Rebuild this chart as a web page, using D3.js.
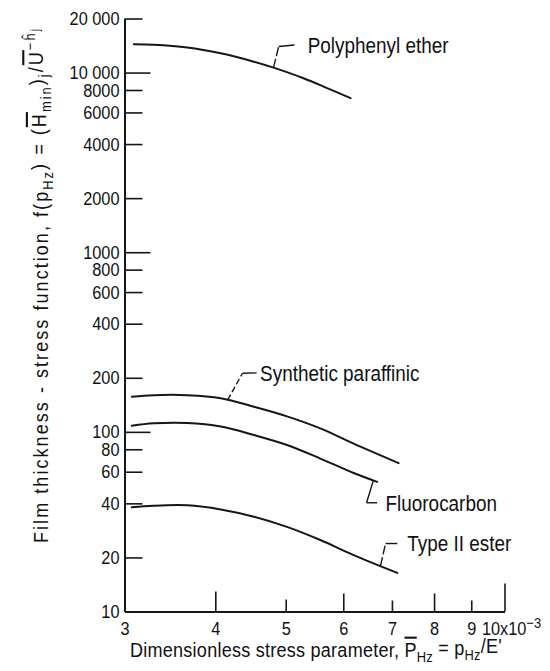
<!DOCTYPE html>
<html>
<head>
<meta charset="utf-8">
<script src="https://cdn.jsdelivr.net/npm/d3@7"></script>
<style>
  html, body { margin: 0; padding: 0; background: #fff; }
  svg text { font-family: "Liberation Sans", Arial, "DejaVu Sans", sans-serif; fill: #111; }
</style>
</head>
<body>
<svg id="chart" width="550" height="671"></svg>
<script>
// Dimensionless stress parameter (x10^-3) and film thickness - stress function per fluid
const polyphenylX = [3.09, 3.29, 3.66, 4.07, 4.52, 4.81, 5.29, 5.70, 6.14];
const polyphenylY = [14400, 14300, 13800, 12800, 11500, 10650, 9300, 8200, 7200];

const paraffinicX = [3.07, 3.29, 3.66, 4.07, 4.52, 5.02, 5.58, 6.20, 7.15];
const paraffinicY = [157, 160, 160, 154, 138, 122, 104.5, 86, 67];

const fluorocarbonX = [3.07, 3.29, 3.66, 4.07, 4.52, 5.02, 5.58, 6.20, 6.68];
const fluorocarbonY = [108, 111.5, 112, 107, 96, 84.5, 71, 59, 52.7];

const esterX = [3.07, 3.29, 3.66, 4.07, 4.52, 5.02, 5.58, 6.20, 7.12];
const esterY = [38, 38.8, 39, 37, 33.7, 29.6, 25, 20.6, 16.4];

// Axis ticks
const xTickValues = [3, 4, 5, 6, 7, 8, 9, 10];
const xTickLabels = ["3", "4", "5", "6", "7", "8", "9", "10x10"];
const yTickValues = [10, 20, 40, 60, 80, 100, 200, 400, 600, 800, 1000, 2000, 4000, 6000, 8000, 10000, 20000];
const yTickLabels = ["10", "20", "40", "60", "80", "100", "200", "400", "600", "800", "1000", "2000", "4000", "6000", "8000", "10 000", "20 000"];

// Curve labels: name, x where the leader leaves the curve, elbow point, leader end, text start x
const labelNames = ["Polyphenyl ether", "Synthetic paraffinic", "Fluorocarbon", "Type II ester"];
const labelCurveX = [4.81, 4.16, 6.60, 6.75];
const labelElbow = [[4.89, 13970], [4.36, 212], [6.46, 40.3], [6.86, 23.9]];
const labelEnd = [[5.14, 14230], [4.56, 213], [6.68, 40.3], [7.12, 23.9]];
const labelTextX = [5.36, 4.61, 6.86, 7.35];

const series = [
  d3.zip(polyphenylX, polyphenylY),
  d3.zip(paraffinicX, paraffinicY),
  d3.zip(fluorocarbonX, fluorocarbonY),
  d3.zip(esterX, esterY)
];

const svg = d3.select("#chart");
const ink = "#161616";
const NARROW = 0.86;   // horizontal squeeze giving the condensed lettering

const x = d3.scaleLog().domain([3, 10]).range([124.5, 504.5]);
const y = d3.scaleLog().domain([10, 20000]).range([611.5, 18.5]);

// ---- y axis (ticks point into the plot) ----
const yMajor = new Set([100, 1000, 10000]);
const yAxis = d3.axisLeft(y)
  .tickValues(yTickValues)
  .tickFormat((d, i) => yTickLabels[i])
  .tickSizeInner(-18)
  .tickSizeOuter(0)
  .tickPadding(5);

const gy = svg.append("g").attr("transform", "translate(124.5,0)").call(yAxis);
gy.select(".domain").attr("stroke", ink).attr("stroke-width", 2);
gy.selectAll(".tick line")
  .attr("stroke", ink).attr("stroke-width", 1.6)
  .attr("x2", d => d === 10 ? 0 : (yMajor.has(d) ? 26 : 18));
gy.selectAll(".tick text")
  .attr("font-size", 19)
  .attr("fill", ink)
  .attr("x", -5 / NARROW)
  .attr("transform", `scale(${NARROW},1)`);

// ---- x axis (ticks point up into the plot) ----
const xTickLen = {3: 0, 4: 20, 5: 12, 6: 18, 7: 11, 8: 18, 9: 11, 10: 28};
const xAxis = d3.axisBottom(x)
  .tickValues(xTickValues)
  .tickFormat((d, i) => xTickLabels[i])
  .tickSizeInner(-18)
  .tickSizeOuter(0)
  .tickPadding(10);

const gx = svg.append("g").attr("transform", "translate(0,611.5)").call(xAxis);
gx.select(".domain").attr("stroke", ink).attr("stroke-width", 2);
gx.selectAll(".tick line")
  .attr("stroke", ink).attr("stroke-width", 1.6)
  .attr("y2", d => -xTickLen[d]);
gx.selectAll(".tick text")
  .attr("font-size", 19)
  .attr("fill", ink)
  .attr("transform", `scale(${NARROW},1)`);

// the last label carries the x10^-3 multiplier: centre "10x10" on the tick, exponent after it
const lastText = gx.selectAll(".tick").filter(d => d === 10).select("text");
const lastW = lastText.node().getComputedTextLength();
lastText.attr("text-anchor", "start").attr("x", -lastW / 2 - 1);
lastText.append("tspan").attr("dy", "-0.45em").attr("font-size", 15).text("\u22123");

// ---- curves ----
const line = d3.line()
  .x(d => x(d[0]))
  .y(d => y(d[1]))
  .curve(d3.curveCatmullRom.alpha(0.5));

svg.append("g").selectAll("path")
  .data(series)
  .join("path")
  .attr("d", line)
  .attr("fill", "none")
  .attr("stroke", ink)
  .attr("stroke-width", 2)
  .attr("stroke-linecap", "round");

// value on a curve at a given x (log-log interpolation between read points)
function valueAt(s, xv) {
  for (let i = 1; i < s.length; i++) {
    if (xv <= s[i][0]) {
      const a = s[i - 1], b = s[i];
      const t = (Math.log(xv) - Math.log(a[0])) / (Math.log(b[0]) - Math.log(a[0]));
      return Math.exp(Math.log(a[1]) + t * (Math.log(b[1]) - Math.log(a[1])));
    }
  }
  return s[s.length - 1][1];
}

// ---- leaders and labels ----
const lab = svg.append("g");
labelNames.forEach((name, i) => {
  const cx = labelCurveX[i], cy = valueAt(series[i], cx);
  lab.append("line")
    .attr("x1", x(cx)).attr("y1", y(cy))
    .attr("x2", x(labelElbow[i][0])).attr("y2", y(labelElbow[i][1]))
    .attr("stroke", ink).attr("stroke-width", 1.4)
    .attr("stroke-dasharray", i === 1 ? "6,3" : (i === 2 ? null : "9,3"));
  lab.append("line")
    .attr("x1", x(labelElbow[i][0])).attr("y1", y(labelElbow[i][1]))
    .attr("x2", x(labelEnd[i][0])).attr("y2", y(labelEnd[i][1]))
    .attr("stroke", ink).attr("stroke-width", 1.4);
  lab.append("text")
    .attr("transform", `translate(${x(labelTextX[i])},${y(labelEnd[i][1])}) scale(${NARROW},1)`)
    .attr("dy", "0.36em")
    .attr("font-size", 22)
    .text(name);
});

// ---- axis titles ----
// spread the letters so the squeezed title spans the wanted length
function fitWidth(textSel, target) {
  const node = textSel.node();
  const n = node.getNumberOfChars();
  const len = node.getComputedTextLength();
  textSel.attr("letter-spacing", ((target / NARROW - len) / n).toFixed(3) + "px");
}

const xTitle = svg.append("text")
  .attr("transform", `translate(130,657) scale(${NARROW},1)`)
  .attr("font-size", 21);
xTitle.append("tspan").text("Dimensionless stress parameter,  ");
xTitle.append("tspan").style("text-decoration", "overline").text("P");
xTitle.append("tspan").attr("font-size", 15).attr("dy", "0.3em").text("Hz");
xTitle.append("tspan").attr("dy", "-0.3em").text(" = p");
xTitle.append("tspan").attr("font-size", 15).attr("dy", "0.3em").text("Hz");
xTitle.append("tspan").attr("dy", "-0.3em").text("/E'");
fitWidth(xTitle, 372);

const yTitle = svg.append("text")
  .attr("transform", `translate(48,543) rotate(-90) scale(${NARROW},1)`)
  .attr("font-size", 21);
yTitle.append("tspan").text("Film thickness - stress function,  f(p");
yTitle.append("tspan").attr("font-size", 15).attr("dy", "0.3em").text("Hz");
yTitle.append("tspan").attr("dy", "-0.3em").text(") = (");
yTitle.append("tspan").style("text-decoration", "overline").text("H");
yTitle.append("tspan").attr("font-size", 15).attr("dy", "0.3em").text("min");
yTitle.append("tspan").attr("dy", "-0.3em").text(")");
yTitle.append("tspan").attr("font-size", 15).attr("dy", "0.3em").text("j");
yTitle.append("tspan").attr("dy", "-0.3em").text("/");
yTitle.append("tspan").style("text-decoration", "overline").text("U");
yTitle.append("tspan").attr("font-size", 15).attr("dy", "-0.5em").text("\u2212\u0125");
yTitle.append("tspan").attr("font-size", 12).attr("dy", "0.35em").text("j");
fitWidth(yTitle, 516);
</script>
</body>
</html>
